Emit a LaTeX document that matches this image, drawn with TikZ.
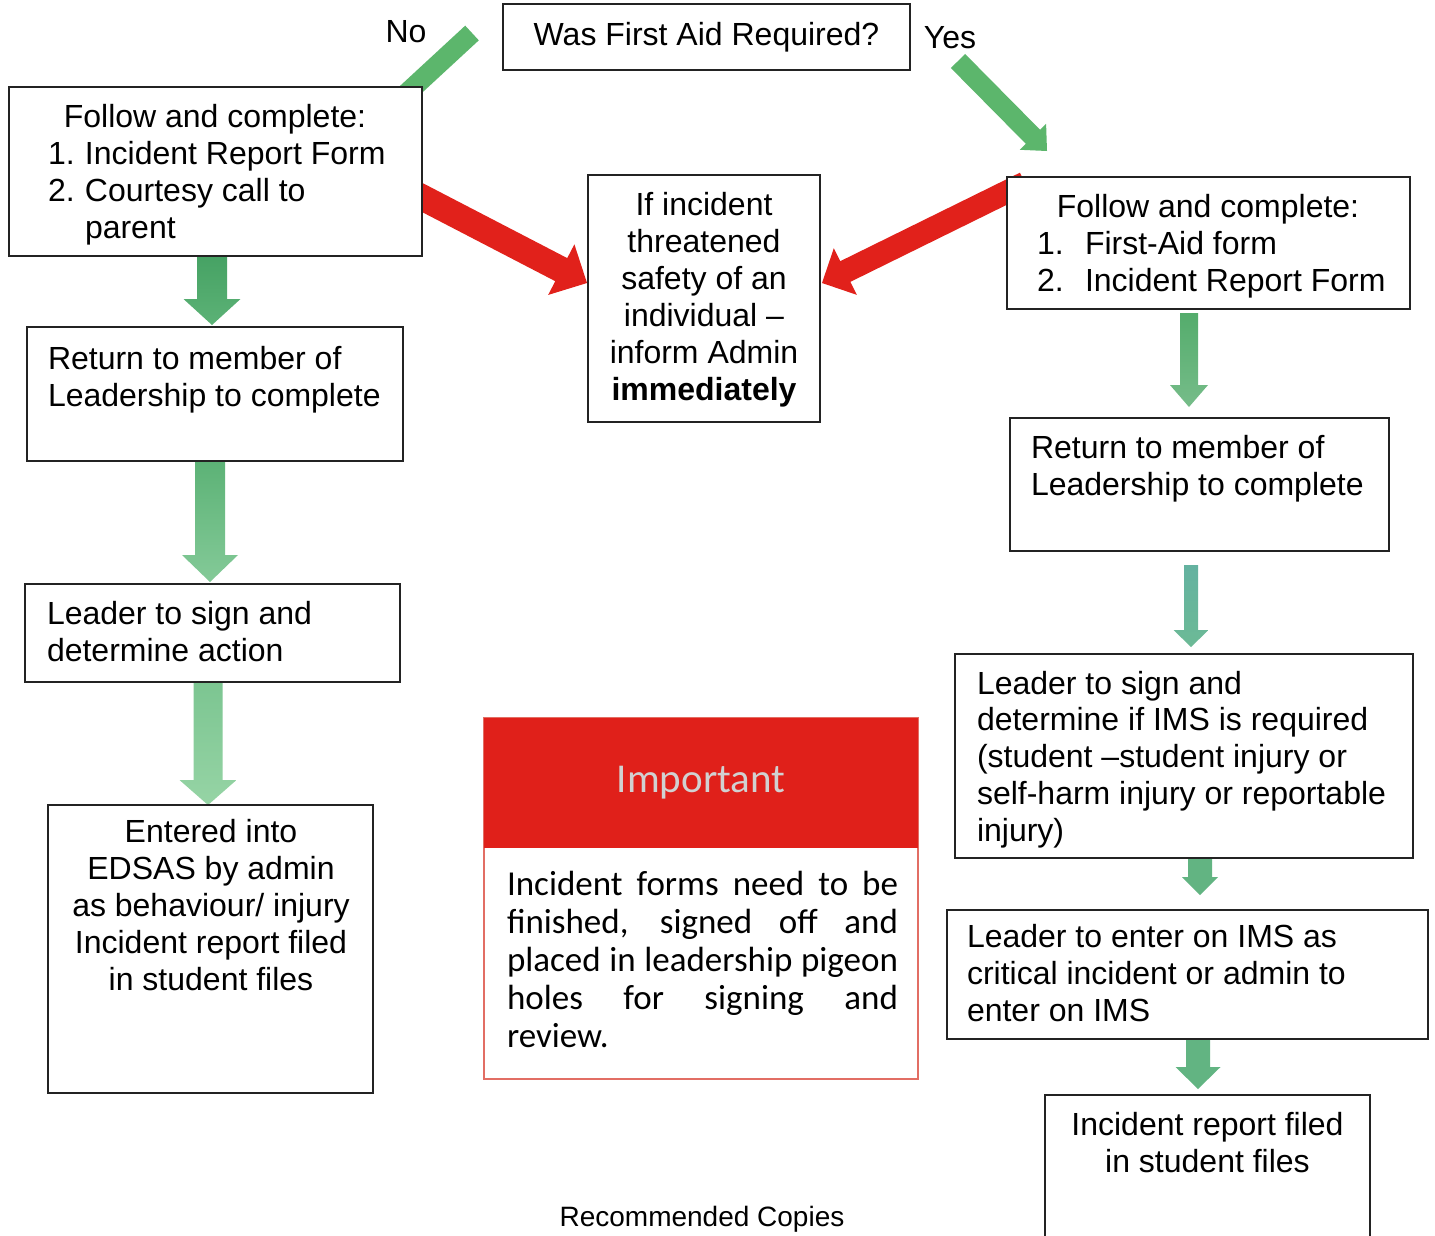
\documentclass[tikz,border=0pt]{standalone}
\usepackage{fontspec}
\setmainfont{Liberation Sans}
\newfontfamily\calibfont{Carlito}
\usetikzlibrary{calc,backgrounds}
\definecolor{redarr}{RGB}{225,33,27}
\definecolor{grndiag}{RGB}{92,182,108}
\definecolor{imphead}{RGB}{224,32,26}
\definecolor{impedge}{RGB}{226,110,100}
\definecolor{boxline}{RGB}{35,35,35}
\definecolor{gA}{RGB}{70,162,100}
\definecolor{gB}{RGB}{92,178,118}
\definecolor{gC}{RGB}{132,202,152}
\definecolor{gD}{RGB}{150,212,165}
\definecolor{gE}{RGB}{84,172,108}
\definecolor{tA}{RGB}{100,178,160}
\definecolor{tB}{RGB}{88,165,185}
\definecolor{tC}{RGB}{108,186,150}
\definecolor{gF}{RGB}{98,180,130}
\newcommand\tp{\rule{0pt}{26pt}}
\newcommand\blockarrow[6]{%
  \coordinate (bas) at (#1);
  \coordinate (bae) at (#2);
  \coordinate (bah) at ($(bae)!#5!(bas)$);
  \path[#6] ($(bas)!#3!90:(bae)$) -- ($(bah)!#3!-90:(bas)$) -- ($(bah)!#4!-90:(bas)$) -- (bae) -- ($(bah)!#4!90:(bas)$) -- ($(bah)!#3!90:(bas)$) -- ($(bas)!#3!-90:(bae)$) -- cycle;
}
\begin{document}
\begin{tikzpicture}[x=1pt,y=-1pt,
  box/.style={draw=boxline, line width=2pt, fill=white, inner sep=0pt, outer sep=0pt, rectangle},
  txt/.style={inner sep=0pt, outer sep=0pt, font=\fontsize{32}{37}\selectfont, text=black},
  redfill/.style={fill=redarr},
  diagfill/.style={fill=grndiag},
  vleft1/.style={top color=gA, bottom color=gB},
  vleft2/.style={top color=gB, bottom color=gC},
  vleft3/.style={top color=gC!80!gB, bottom color=gD},
  vright1/.style={top color=gE, bottom color=gE!80!white},
  vright2/.style={top color=tA, middle color=tB, bottom color=tC},
  vright3/.style={fill=gF}]
\useasboundingbox (0,0) rectangle (1435,1235);
\clip (0,0) rectangle (1435,1235);

% boxes
\node[box, minimum width=407, minimum height=66, font=\fontsize{32}{37}\selectfont] (Q) at (706.5,37) {Was First Aid Required?};
\node[box, minimum width=413, minimum height=169] (L1) at (215.5,171.5) {};
\node[box, minimum width=232, minimum height=247] (M) at (704,298.5) {};
\node[box, minimum width=403, minimum height=132] (R1) at (1208.5,243) {};
\node[box, minimum width=376, minimum height=134] (L2) at (215,394) {};
\node[box, minimum width=379, minimum height=133] (R2) at (1199.5,484.5) {};
\node[box, minimum width=375, minimum height=98] (L3) at (212.5,633) {};
\node[box, minimum width=458, minimum height=204] (R3) at (1184,756) {};
\node[box, minimum width=325, minimum height=288] (L4) at (210.5,949) {};
\node[box, minimum width=481, minimum height=129] (R4) at (1187.5,974.5) {};
\node[box, minimum width=325, minimum height=165] (R5) at (1207.5,1177.5) {};
\node[box, draw=impedge, line width=1.4pt, minimum width=434, minimum height=361] (impb) at (701,898.5) {};
\node[rectangle, fill=imphead, inner sep=0pt, minimum width=434, minimum height=130,
      font=\calibfont\fontsize{41}{45}\selectfont, text=white!82!black] (imph) at (701,783) {Important};

% arrows (behind boxes)
\begin{pgfonlayer}{background}
\fill[white] (0,0) rectangle (1435,1235);
\blockarrow{$(Q.west)+(-31,-4)$}{$(L1.north east)+(-42,31)$}{10pt}{18pt}{20pt}{diagfill}
\blockarrow{$(Q.east)+(48,24)$}{$(R1.north west)+(40,-26)$}{10pt}{18.5pt}{20pt}{diagfill}
\blockarrow{$(L1.east)+(-20,15.5)$}{$(M.west)+(-1,-15.5)$}{13pt}{28.5pt}{29pt}{redfill}
\blockarrow{$(R1.west)+(18,-60)$}{$(M.east)+(2,-15.5)$}{11.5pt}{26pt}{26pt}{redfill}
\blockarrow{$(L1.south)+(-3.5,0)$}{$(L2.north)+(-3,-2)$}{15pt}{28.5pt}{26pt}{vleft1}
\blockarrow{$(L2.south)+(-5,0)$}{$(L3.north)+(-2.5,-2)$}{15pt}{28pt}{27pt}{vleft2}
\blockarrow{$(L3.south)+(-4.5,0)$}{$(L4.north)+(-2.5,0)$}{14.5pt}{28.5pt}{25pt}{vleft3}
\blockarrow{$(R1.south)+(-19.5,4)$}{$(R2.north)+(-10.5,-11)$}{9pt}{19pt}{22pt}{vright1}
\blockarrow{$(R2.south)+(-8.5,14)$}{$(R3.north)+(7,-7)$}{7pt}{17.5pt}{17pt}{vright2}
\blockarrow{$(R3.south)+(16,0)$}{$(R4.north)+(12.5,-15)$}{12pt}{18pt}{18pt}{vright3}
\blockarrow{$(R4.south)+(10.5,0)$}{$(R5.north)+(-9.5,-6)$}{12pt}{22.5pt}{22pt}{vright3}
\end{pgfonlayer}

% labels
\node[txt, anchor=base] (no) at (406,42) {No};
\node[txt, anchor=base] (yes) at (950,48) {Yes};

% texts
\node[txt, anchor=north west, align=left] (L1t) at (48,101)
  {\tp\makebox[334pt][c]{Follow and complete:}\\\makebox[37pt][l]{1.}Incident Report Form\\\makebox[37pt][l]{2.}Courtesy call to\\\makebox[37pt][l]{}parent};
\node[txt, anchor=north west, align=left] (L2t) at (48,343)
  {\tp Return to member of\\Leadership to complete};
\node[txt, anchor=north west, align=left] (L3t) at (47,598)
  {\tp Leader to sign and\\determine action};
\node[txt, anchor=north, align=center] (L4t) at (211,816)
  {\tp Entered into\\EDSAS by admin\\as behaviour/ injury\\Incident report filed\\in student files};
\node[txt, anchor=north, align=center] (Mt) at (704,189)
  {\tp If incident\\threatened\\safety of an\\individual –\\inform Admin\\\textbf{immediately}};
\node[txt, anchor=north west, align=left] (R1t) at (1037,191)
  {\tp\makebox[342pt][c]{Follow and complete:}\\\makebox[48pt][l]{1.}First-Aid form\\\makebox[48pt][l]{2.}Incident Report Form};
\node[txt, anchor=north west, align=left] (R2t) at (1031,432)
  {\tp Return to member of\\Leadership to complete};
\node[txt, anchor=north west, align=left, font=\fontsize{32}{36.8}\selectfont] (R3t) at (977,668)
  {\tp Leader to sign and\\determine if IMS is required\\(student –student injury or\\self-harm injury or reportable\\injury)};
\node[txt, anchor=north west, align=left] (R4t) at (967,921)
  {\tp Leader to enter on IMS as\\critical incident or admin to\\enter on IMS};
\node[txt, anchor=north, align=center] (R5t) at (1207.5,1109)
  {\tp Incident report filed\\in student files};
\node[txt, anchor=north west, align=left, font=\calibfont\fontsize{35}{38}\selectfont] (impt) at (507,868)
  {\rule{0pt}{27pt}\makebox[391pt][s]{Incident forms need to be}\\\makebox[391pt][s]{finished, signed off and}\\\makebox[391pt][s]{placed in leadership pigeon}\\\makebox[391pt][s]{holes for signing and}\\review.};
\node[txt, anchor=base, font=\fontsize{28}{33}\selectfont] (rec) at (702,1226) {Recommended Copies};
\end{tikzpicture}
\end{document}
